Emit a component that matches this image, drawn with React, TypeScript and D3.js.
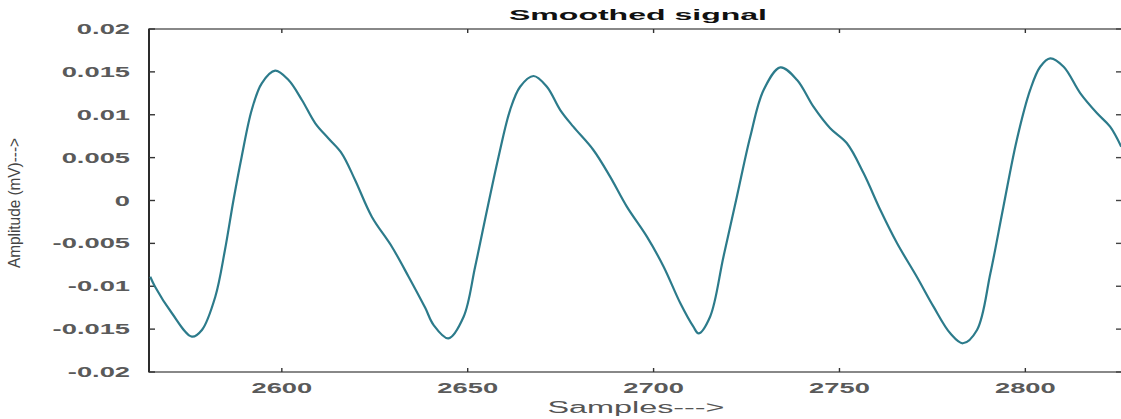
import React, { useEffect, useRef } from 'react';
import * as d3 from 'd3';

const sampleIdx = [
  2564.6, 2565.9, 2570.4, 2575.8, 2578.5, 2582.1, 2584.7, 2587.0, 2589.2, 2591.9,
  2594.6, 2598.2, 2601.8, 2605.4, 2609.0, 2612.5, 2616.1, 2619.7, 2624.2, 2629.6,
  2634.1, 2638.6, 2640.8, 2644.8, 2648.9, 2652.0, 2655.2, 2658.3, 2661.4, 2664.1,
  2667.7, 2671.3, 2674.9, 2678.4, 2683.8, 2688.3, 2692.8, 2698.2, 2702.7, 2707.2,
  2710.7, 2712.1, 2715.2, 2718.8, 2722.4, 2726.0, 2729.6, 2734.1, 2738.6, 2743.0,
  2747.5, 2752.0, 2756.5, 2761.0, 2765.5, 2770.8, 2775.3, 2779.8, 2783.2, 2787.0,
  2790.6, 2794.1, 2797.7, 2801.3, 2804.0, 2806.7, 2810.3, 2814.8, 2819.3, 2822.8,
  2825.8,
];
const amplitude = [
  -0.00889, -0.01005, -0.01312, -0.01588, -0.0151, -0.01122, -0.00577, 0.00006, 0.00511, 0.01055,
  0.01367, 0.01514, 0.01405, 0.01172, 0.009, 0.00725, 0.0055, 0.00239, -0.00189, -0.00539,
  -0.00889, -0.01255, -0.0145, -0.01607, -0.01355, -0.00772, -0.00111, 0.00511, 0.01055, 0.01327,
  0.01452, 0.01327, 0.01055, 0.00861, 0.00589, 0.00278, -0.00072, -0.00422, -0.00772, -0.01199,
  -0.01472, -0.01549, -0.01355, -0.00655, 0.00044, 0.00744, 0.01289, 0.01553, 0.01405, 0.01094,
  0.00842, 0.00667, 0.00317, -0.00111, -0.00499, -0.00889, -0.01238, -0.01549, -0.01665, -0.0151,
  -0.00849, -0.00072, 0.00706, 0.01289, 0.0156, 0.01658, 0.0156, 0.0125, 0.01017, 0.00861,
  0.00627,
];

const xDomain = [2564, 2826];
const yDomain = [-0.02, 0.02];
const xTicks = [2600, 2650, 2700, 2750, 2800];
const yTicks = [-0.02, -0.015, -0.01, -0.005, 0, 0.005, 0.01, 0.015, 0.02];
const yTickLabels = ['-0.02', '-0.015', '-0.01', '-0.005', '0', '0.005', '0.01', '0.015', '0.02'];

const title = 'Smoothed signal';
const xLabel = 'Samples--->';
const yLabel = 'Amplitude (mV)--->';

const WIDTH = 1121;
const HEIGHT = 419;

const App = () => {
  const svgRef = useRef(null);

  useEffect(() => {
    const svg = d3.select(svgRef.current);
    svg.selectAll('*').remove();

    const left = 149;
    const right = 1122;
    const top = 29;
    const bottom = 372;
    const font = '"Liberation Sans", Arial, sans-serif';
    const stretch = 1.95;

    const x = d3.scaleLinear().domain(xDomain).range([148, right]);
    const y = d3.scaleLinear().domain(yDomain).range([bottom, top]);

    svg.append('rect').attr('width', WIDTH).attr('height', HEIGHT).attr('fill', '#fff');

    const clipId = 'plot-clip';
    svg
      .append('defs')
      .append('clipPath')
      .attr('id', clipId)
      .append('rect')
      .attr('x', left)
      .attr('y', top)
      .attr('width', right - left)
      .attr('height', bottom - top);

    // frame
    svg
      .append('rect')
      .attr('x', left)
      .attr('y', top)
      .attr('width', right - left)
      .attr('height', bottom - top)
      .attr('fill', 'none')
      .attr('stroke', '#6b6b6b')
      .attr('stroke-width', 1.6);
    svg
      .append('line')
      .attr('x1', left)
      .attr('x2', left)
      .attr('y1', top)
      .attr('y2', bottom)
      .attr('stroke', '#222')
      .attr('stroke-width', 1.8);

    // y ticks, inward on both sides
    const yg = svg.append('g');
    yTicks.forEach((v, i) => {
      const py = y(v);
      yg.append('line')
        .attr('x1', left)
        .attr('x2', left + 6)
        .attr('y1', py)
        .attr('y2', py)
        .attr('stroke', '#333')
        .attr('stroke-width', 1.4);
      yg.append('line')
        .attr('x1', right - 6)
        .attr('x2', right)
        .attr('y1', py)
        .attr('y2', py)
        .attr('stroke', '#444')
        .attr('stroke-width', 1.4);
      yg.append('text')
        .attr('transform', `translate(130, ${py + 5}) scale(${stretch}, 1)`)
        .attr('text-anchor', 'end')
        .attr('font-family', font)
        .attr('font-size', 14)
        .attr('font-weight', 'bold')
        .attr('fill', '#5a5a5a')
        .text(yTickLabels[i]);
    });

    // x ticks, inward on top and bottom
    const xg = svg.append('g');
    xTicks.forEach((v) => {
      const px = x(v);
      xg.append('line')
        .attr('x1', px)
        .attr('x2', px)
        .attr('y1', bottom)
        .attr('y2', bottom - 4)
        .attr('stroke', '#333')
        .attr('stroke-width', 1.4);
      xg.append('line')
        .attr('x1', px)
        .attr('x2', px)
        .attr('y1', top)
        .attr('y2', top + 4)
        .attr('stroke', '#333')
        .attr('stroke-width', 1.4);
      xg.append('text')
        .attr('transform', `translate(${px}, 393) scale(${stretch}, 1)`)
        .attr('text-anchor', 'middle')
        .attr('font-family', font)
        .attr('font-size', 14)
        .attr('font-weight', 'bold')
        .attr('fill', '#5a5a5a')
        .text(String(v));
    });

    // signal
    const points = sampleIdx.map((s, i) => [s, amplitude[i]]);
    const line = d3
      .line()
      .x((d) => x(d[0]))
      .y((d) => y(d[1]))
      .curve(d3.curveCatmullRom.alpha(0.5));
    svg
      .append('path')
      .datum(points)
      .attr('clip-path', `url(#${clipId})`)
      .attr('d', line)
      .attr('fill', 'none')
      .attr('stroke', '#2c7b8b')
      .attr('stroke-width', 2.2)
      .attr('stroke-linejoin', 'round');

    // title and labels
    svg
      .append('text')
      .attr('x', 638)
      .attr('y', 20)
      .attr('text-anchor', 'middle')
      .attr('font-family', font)
      .attr('font-size', 15)
      .attr('font-weight', 'bold')
      .attr('fill', '#111')
      .attr('textLength', 258)
      .attr('lengthAdjust', 'spacingAndGlyphs')
      .text(title);

    svg
      .append('text')
      .attr('x', 636)
      .attr('y', 413)
      .attr('text-anchor', 'middle')
      .attr('font-family', font)
      .attr('font-size', 16)
      .attr('fill', '#555')
      .attr('textLength', 177)
      .attr('lengthAdjust', 'spacingAndGlyphs')
      .text(xLabel);

    svg
      .append('text')
      .attr('transform', 'translate(20, 203) rotate(-90)')
      .attr('text-anchor', 'middle')
      .attr('font-family', font)
      .attr('font-size', 16)
      .attr('fill', '#444')
      .attr('textLength', 130)
      .attr('lengthAdjust', 'spacingAndGlyphs')
      .text(yLabel);
  }, []);

  return (
    <svg
      ref={svgRef}
      width={WIDTH}
      height={HEIGHT}
      style={{ position: 'absolute', left: 0, top: 0, display: 'block' }}
    />
  );
};

export default App;
